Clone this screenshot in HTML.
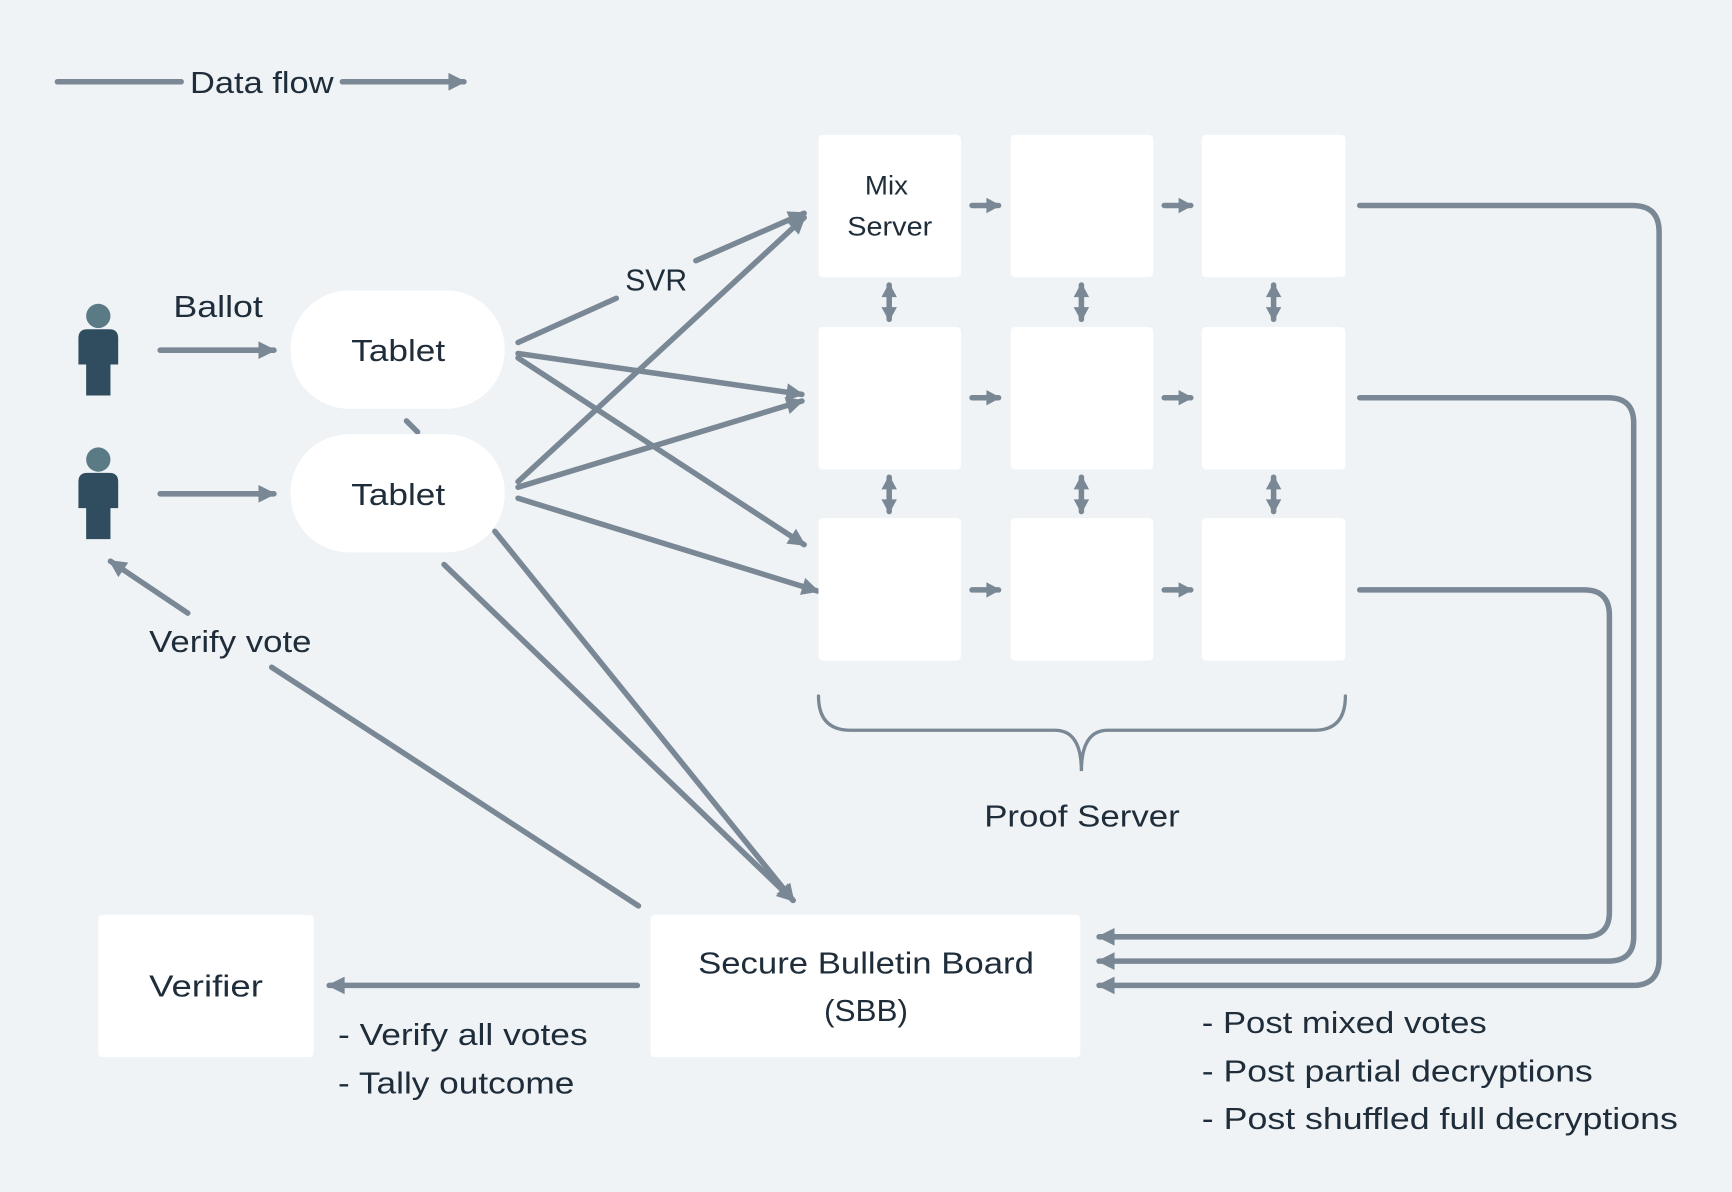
<!DOCTYPE html>
<html><head><meta charset="utf-8"><style>
html,body{margin:0;padding:0;background:#eff3f6;}
svg{display:block;}
text{font-family:"Liberation Sans",sans-serif;fill:#1f2d3a;}
</style></head><body>
<svg width="1732" height="1192" viewBox="0 0 1568 1079" preserveAspectRatio="none" xmlns="http://www.w3.org/2000/svg">
<defs>
<marker id="a" markerUnits="userSpaceOnUse" markerWidth="22" markerHeight="22" refX="16" refY="11" orient="auto">
<path d="M2,3 L18,11 L2,19 Z" fill="#7a8896"/>
</marker>
<marker id="s" markerUnits="userSpaceOnUse" markerWidth="18" markerHeight="18" refX="12" refY="9" orient="auto-start-reverse">
<path d="M1,2 L14,9 L1,16 Z" fill="#7a8896"/>
</marker>
</defs>
<rect width="1568" height="1079" fill="#eff3f6"/>
<g stroke="#7a8896" stroke-width="5" fill="none" stroke-linecap="round">
<line x1="52" y1="74" x2="164" y2="74"/>
<line x1="310" y1="74" x2="420" y2="74" marker-end="url(#a)"/>
<line x1="145" y1="317" x2="248" y2="317" marker-end="url(#a)"/>
<line x1="145" y1="447" x2="248" y2="447" marker-end="url(#a)"/>
<line x1="469" y1="310" x2="558" y2="270"/>
<line x1="630" y1="236" x2="728" y2="193" marker-end="url(#a)"/>
<line x1="469" y1="320" x2="726" y2="357" marker-end="url(#a)"/>
<line x1="469" y1="324" x2="728" y2="493" marker-end="url(#a)"/>
<line x1="469" y1="436" x2="728" y2="197" marker-end="url(#a)"/>
<line x1="469" y1="441" x2="726" y2="363" marker-end="url(#a)"/>
<line x1="469" y1="451" x2="740" y2="535" marker-end="url(#a)"/>
<line x1="368" y1="381" x2="378" y2="391"/>
<line x1="448" y1="481" x2="718" y2="815" marker-end="url(#a)"/>
<line x1="402" y1="511" x2="718" y2="815" marker-end="url(#a)"/>
<line x1="578" y1="820" x2="246" y2="604"/>
<line x1="170" y1="555" x2="100" y2="508" marker-end="url(#a)"/>
<line x1="577" y1="892" x2="298" y2="892" marker-end="url(#a)"/>
<path d="M1231,186 H1478 Q1502,186 1502,210 V868 Q1502,892 1478,892 H995" marker-end="url(#a)"/>
<path d="M1231,360 H1456 Q1479,360 1479,383 V848 Q1479,870 1456,870 H995" marker-end="url(#a)"/>
<path d="M1231,534 H1434 Q1457,534 1457,557 V826 Q1457,848 1434,848 H995" marker-end="url(#a)"/>
<path d="M741,630 Q741,661 770,661 H955 Q979,661 979,698 Q979,661 1003,661 H1190 Q1218,661 1218,630" stroke-width="3"/>
</g>
<g fill="#fff">
<rect x="263" y="263" width="194" height="107" rx="53"/>
<rect x="263" y="393" width="194" height="107" rx="53"/>
<rect x="741" y="122" width="129" height="129" rx="4"/>
<rect x="915" y="122" width="129" height="129" rx="4"/>
<rect x="1088" y="122" width="130" height="129" rx="4"/>
<rect x="741" y="296" width="129" height="129" rx="4"/>
<rect x="915" y="296" width="129" height="129" rx="4"/>
<rect x="1088" y="296" width="130" height="129" rx="4"/>
<rect x="741" y="469" width="129" height="129" rx="4"/>
<rect x="915" y="469" width="129" height="129" rx="4"/>
<rect x="1088" y="469" width="130" height="129" rx="4"/>
<rect x="589" y="828" width="389" height="129" rx="4"/>
<rect x="89" y="828" width="195" height="129" rx="4"/>
</g>
<g stroke="#7a8896" stroke-width="5" fill="none" stroke-linecap="round">
<line x1="880" y1="186" x2="904" y2="186" marker-end="url(#s)"/>
<line x1="1054" y1="186" x2="1078" y2="186" marker-end="url(#s)"/>
<line x1="880" y1="360" x2="904" y2="360" marker-end="url(#s)"/>
<line x1="1054" y1="360" x2="1078" y2="360" marker-end="url(#s)"/>
<line x1="880" y1="534" x2="904" y2="534" marker-end="url(#s)"/>
<line x1="1054" y1="534" x2="1078" y2="534" marker-end="url(#s)"/>
<line x1="805" y1="258" x2="805" y2="289" marker-start="url(#s)" marker-end="url(#s)"/>
<line x1="979" y1="258" x2="979" y2="289" marker-start="url(#s)" marker-end="url(#s)"/>
<line x1="1153" y1="258" x2="1153" y2="289" marker-start="url(#s)" marker-end="url(#s)"/>
<line x1="805" y1="432" x2="805" y2="463" marker-start="url(#s)" marker-end="url(#s)"/>
<line x1="979" y1="432" x2="979" y2="463" marker-start="url(#s)" marker-end="url(#s)"/>
<line x1="1153" y1="432" x2="1153" y2="463" marker-start="url(#s)" marker-end="url(#s)"/>
</g>
<g>
<circle cx="89" cy="286" r="11" fill="#5a7a86"/>
<path d="M71,306 Q71,298 79,298 H99 Q107,298 107,306 V330 H100 V358 H78 V330 H71 Z" fill="#2f4d5e"/>
<circle cx="89" cy="416" r="11" fill="#5a7a86"/>
<path d="M71,436 Q71,428 79,428 H99 Q107,428 107,436 V460 H100 V488 H78 V460 H71 Z" fill="#2f4d5e"/>
</g>
<g font-size="28" lengthAdjust="spacingAndGlyphs">
<text x="172" y="84" textLength="130" lengthAdjust="spacingAndGlyphs">Data flow</text>
<text x="157" y="287" textLength="81" lengthAdjust="spacingAndGlyphs">Ballot</text>
<text x="566" y="263" textLength="56" lengthAdjust="spacingAndGlyphs">SVR</text>
<text x="318" y="327" textLength="85" lengthAdjust="spacingAndGlyphs">Tablet</text>
<text x="318" y="457" textLength="85" lengthAdjust="spacingAndGlyphs">Tablet</text>
<text x="135" y="590" textLength="147" lengthAdjust="spacingAndGlyphs">Verify vote</text>
<text x="891" y="748" textLength="177" lengthAdjust="spacingAndGlyphs">Proof Server</text>
<text x="632" y="881" textLength="304" lengthAdjust="spacingAndGlyphs">Secure Bulletin Board</text>
<text x="746" y="924" textLength="76" lengthAdjust="spacingAndGlyphs">(SBB)</text>
<text x="135" y="902" textLength="103" lengthAdjust="spacingAndGlyphs">Verifier</text>
<text x="306" y="946" textLength="226" lengthAdjust="spacingAndGlyphs">- Verify all votes</text>
<text x="306" y="990" textLength="214" lengthAdjust="spacingAndGlyphs">- Tally outcome</text>
<text x="1088" y="935" textLength="258" lengthAdjust="spacingAndGlyphs">- Post mixed votes</text>
<text x="1088" y="979" textLength="354" lengthAdjust="spacingAndGlyphs">- Post partial decryptions</text>
<text x="1088" y="1022" textLength="431" lengthAdjust="spacingAndGlyphs">- Post shuffled full decryptions</text>
</g>
<g font-size="24">
<text x="783" y="176" textLength="39" lengthAdjust="spacingAndGlyphs">Mix</text>
<text x="767" y="213" textLength="77" lengthAdjust="spacingAndGlyphs">Server</text>
</g>
</svg>
</body></html>
